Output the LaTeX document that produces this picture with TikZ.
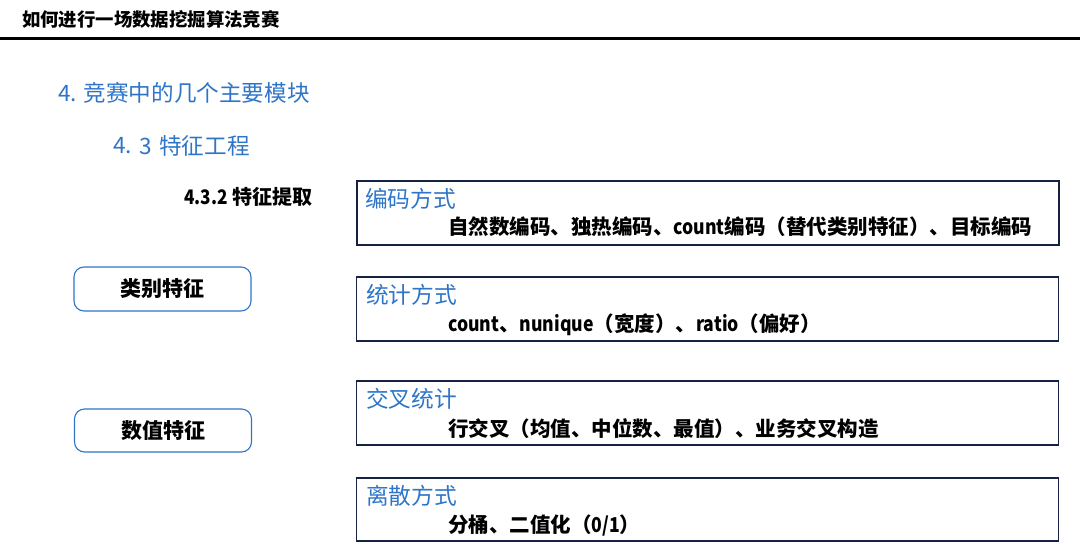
\documentclass[tikz,border=0pt]{standalone}
\usepackage{fontspec}
\newfontfamily\cjk{Noto Sans CJK SC}
\newfontfamily\latn{Noto Sans CJK SC}[FakeStretch=0.86]
\definecolor{hblue}{RGB}{46,117,200}
\definecolor{navy}{RGB}{22,34,66}
\begin{document}
\begin{tikzpicture}[x=1pt,y=-1pt,
  pagettl/.style={anchor=west,inner sep=0,font=\cjk\bfseries\fontsize{18.4}{22}\selectfont},
  hdr/.style={anchor=west,inner sep=0,text=hblue,font=\cjk\fontsize{22.6}{27}\selectfont},
  sub/.style={anchor=west,inner sep=0,font=\cjk\bfseries\fontsize{20}{24}\selectfont},
  frame/.style={draw=navy,line width=1.8pt,inner sep=0,minimum width=702pt,minimum height=64pt},
  pill/.style={draw=hblue,line width=1.1pt,rounded corners=10pt,inner sep=0,minimum width=177pt,minimum height=44pt,font=\cjk\bfseries\fontsize{21}{25}\selectfont},
  boxttl/.style={anchor=west,inner sep=0,text=hblue,font=\cjk\fontsize{22.7}{27}\selectfont},
  boxtxt/.style={anchor=west,inner sep=0,font=\cjk\bfseries\fontsize{20.5}{24}\selectfont}]
\useasboundingbox (0,0) rectangle (1080,549);
% page title and rule
\node[pagettl] (pt) at (22,19) {如何进行一场数据挖掘算法竞赛};
\coordinate (rl) at (0,38.5);
\coordinate (rr) at (1080,38.5);
\draw[line width=3pt] (rl) -- (rr);
% headers
\node[hdr] (h1) at (58,92.5) {4. 竞赛中的几个主要模块};
\node[hdr] (h2a) at (113,146) {4.};
\node[hdr] (h2b) at (139,146) {3};
\node[hdr] (h2c) at (159,146) {特征工程};
\node[sub] (h3) at (184,197) {{\latn 4.3.2} 特征提取};
% left pills
\node[pill] (cat) at (162.5,289) {类别特征};
\node[pill,minimum height=43pt] (num) at (163,430.5) {数值特征};
% frames
\node[frame] (f1) at (708,213) {};
\node[frame] (f2) at (707.5,309) {};
\node[frame] (f3) at (707.5,413) {};
\node[frame,minimum height=63pt] (f4) at (707.5,509.5) {};
% frame titles
\node[boxttl] (t1) at (365,198.5) {编码方式};
\node[boxttl] (t2) at (366,294.5) {统计方式};
\node[boxttl] (t3) at (366,399) {交叉统计};
\node[boxttl] (t4) at (366,496) {离散方式};
% frame contents
\node[boxtxt] (c1) at (448,227) {自然数编码、独热编码、{\latn count}编码（替代类别特征）、目标编码};
\node[boxtxt] (c2) at (448,325) {{\latn count}、{\latn nunique}（宽度）、{\latn ratio}（偏好）};
\node[boxtxt] (c3) at (448,429) {行交叉（均值、中位数、最值）、业务交叉构造};
\node[boxtxt] (c4) at (448,526) {分桶、二值化（{\latn 0/1}）};
\end{tikzpicture}
\end{document}
